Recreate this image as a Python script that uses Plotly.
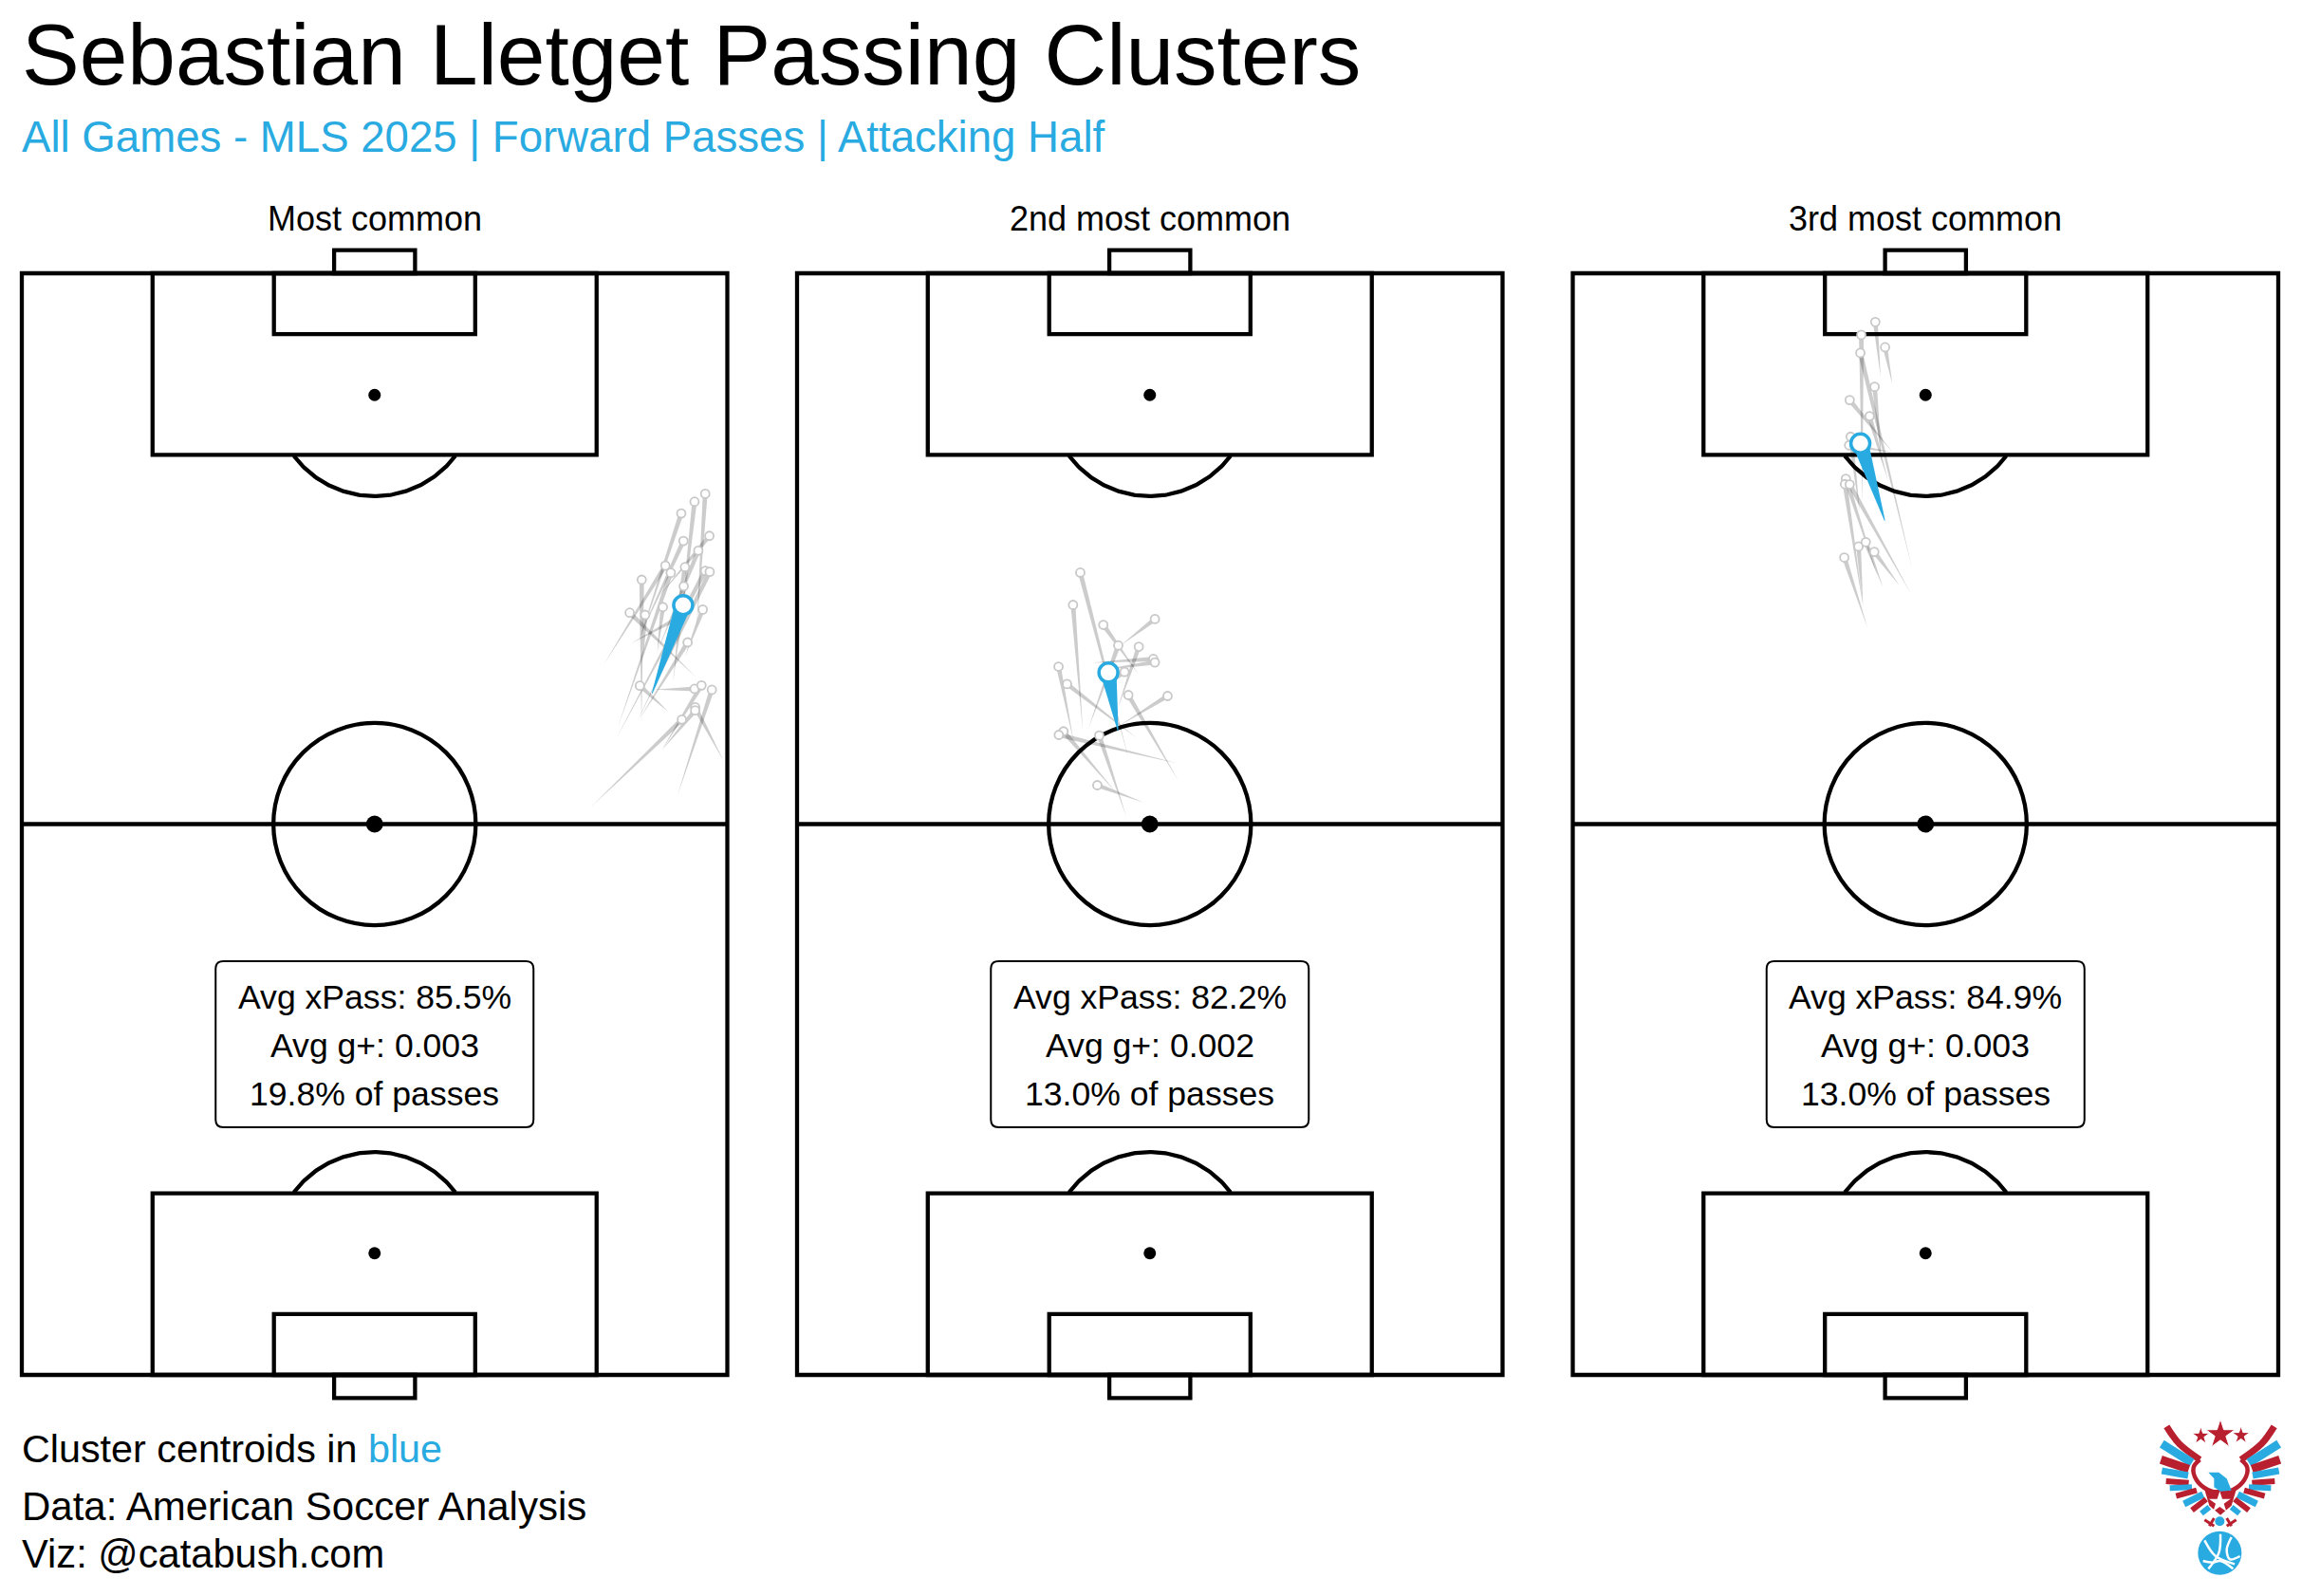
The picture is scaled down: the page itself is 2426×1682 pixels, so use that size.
import numpy as np
import plotly.graph_objects as go

W, H = 2426, 1682
BLUE = "#29abe2"
RED = "#b8202f"
FONT = "Liberation Sans"

title = "Sebastian Lletget Passing Clusters"
subtitle = "All Games - MLS 2025 | Forward Passes | Attacking Half"
panel_titles = ["Most common", "2nd most common", "3rd most common"]
xpass = ["Avg xPass: 85.5%", "Avg xPass: 82.2%", "Avg xPass: 84.9%"]
gplus = ["Avg g+: 0.003", "Avg g+: 0.002", "Avg g+: 0.003"]
share = ["19.8% of passes", "13.0% of passes", "13.0% of passes"]

# passes in pitch metres: start = thin end, end = circle end
c1_start_x = [65.08,63.25,59.38,61.58,59.60,61.27,56.09,63.25,57.46,57.31,59.29,59.75,62.80,65.02,59.90,61.27,63.95,59.60,62.37,60.97,61.67,63.19,67.67,61.73,54.87,58.74]
c1_start_y = [71.32,68.91,69.52,74.34,70.42,68.91,67.65,73.43,61.68,60.62,62.19,62.13,66.05,66.50,68.31,68.91,68.46,62.58,63.19,65.30,59.48,55.14,58.52,59.57,54.11,69.70]
c1_end_x = [65.87,64.84,63.56,66.27,63.77,65.20,62.03,63.92,62.55,65.87,66.30,59.75,63.80,58.59,60.08,61.79,65.63,64.17,59.57,64.84,65.51,66.51,64.90,64.90,63.62,63.40]
c1_end_y = [83.98,83.23,82.11,79.97,79.49,78.56,77.14,76.99,76.45,76.63,76.54,75.79,75.18,72.65,72.44,73.19,72.95,69.82,65.69,65.39,65.72,65.30,63.64,63.34,62.46,72.23]
c1_centroid = [60.75, 64.94, 63.74, 73.37]

c2_start_x = [31.99,27.57,32.91,31.23,28.09,30.93,28.34,29.10,30.32,26.66,32.75,36.78,31.08,30.77,36.78,31.78,33.42]
c2_start_y = [58.68,61.40,66.82,69.53,61.55,63.51,67.85,67.12,65.92,60.49,60.73,56.63,61.85,55.52,58.29,53.17,54.58]
c2_end_x = [27.30,26.60,29.52,34.49,30.96,32.94,34.34,34.49,31.56,25.20,26.02,31.93,35.71,25.68,25.23,29.13,28.94]
c2_end_y = [76.47,73.39,71.49,72.04,69.53,69.41,68.24,67.91,67.00,67.51,65.85,64.80,64.71,61.34,61.00,60.94,56.21]
c2_centroid = [30.93, 61.40, 30.01, 66.94]

c3_start_x = [29.70,30.83,27.94,32.72,29.83,30.89,30.43,27.69,30.74,29.37,28.00,32.66,28.00,29.92,31.50,28.45]
c3_start_y = [95.15,94.45,83.09,76.91,86.71,87.91,85.20,82.19,87.97,76.16,73.30,74.41,73.30,75.10,75.26,71.19]
c3_end_x = [29.16,30.10,27.81,27.72,29.09,26.69,28.61,26.78,26.63,26.32,26.23,26.69,27.54,28.24,29.06,26.17]
c3_end_y = [100.36,97.95,99.13,97.41,94.18,92.92,91.38,89.42,88.61,85.41,84.90,84.87,78.96,79.38,78.45,77.91]
c3_centroid = [30.07, 81.43, 27.72, 88.79]

clusters = [
    (c1_start_x, c1_start_y, c1_end_x, c1_end_y, c1_centroid),
    (c2_start_x, c2_start_y, c2_end_x, c2_end_y, c2_centroid),
    (c3_start_x, c3_start_y, c3_end_x, c3_end_y, c3_centroid),
]

# pitch dimensions (m)
PL, PW = 105.0, 68.0
BOX_HALF, BOX_D = 21.4, 17.3
SIX_HALF, SIX_D = 9.7, 5.8
GOAL_HALF, GOAL_D = 3.9, 2.2
SPOT_D = 11.6
CIRCLE_R = 9.75

# layout (pixels)
pitch_left = [23.0, 840.0, 1657.5]
pitch_w = 743.5
pitch_top, pitch_bot = 288.0, 1449.0
SX = pitch_w / PW
SY = (pitch_bot - pitch_top) / PL
PAD_X, PAD_Y = 1.0, 3.0


def px(x):
    return x / W


def py(y):
    return 1 - y / H


fig = go.Figure()
shapes, annos = [], []
layout_axes = {}


def wedge(xs, ys, xe, ye, w0, w1):
    dx, dy = (xe - xs) * SX, (ye - ys) * SY
    n = np.hypot(dx, dy)
    nx, ny = -dy / n, dx / n
    X = [xs + nx * w0 / 2 / SX, xe + nx * w1 / 2 / SX, xe - nx * w1 / 2 / SX, xs - nx * w0 / 2 / SX, xs + nx * w0 / 2 / SX]
    Y = [ys + ny * w0 / 2 / SY, ye + ny * w1 / 2 / SY, ye - ny * w1 / 2 / SY, ys - ny * w0 / 2 / SY, ys + ny * w0 / 2 / SY]
    return X, Y


LINE_W = 4.3
LINE = dict(color="black", width=LINE_W)
for i in range(3):
    suffix = "" if i == 0 else str(i + 1)
    xa, ya = "x" + suffix, "y" + suffix
    left = pitch_left[i]
    layout_axes["xaxis" + suffix] = dict(
        domain=[px(left - PAD_X * SX), px(left + pitch_w + PAD_X * SX)],
        range=[-PAD_X, PW + PAD_X], visible=False, fixedrange=True, anchor=ya)
    layout_axes["yaxis" + suffix] = dict(
        domain=[py(pitch_bot + PAD_Y * SY), py(pitch_top - PAD_Y * SY)],
        range=[-PAD_Y, PL + PAD_Y], visible=False, fixedrange=True, anchor=xa)

    def rect(x0, y0, x1, y1):
        shapes.append(dict(type="rect", xref=xa, yref=ya, x0=x0, y0=y0, x1=x1, y1=y1,
                           line=LINE, fillcolor="rgba(0,0,0,0)", layer="below"))

    mid = PW / 2
    rect(0, 0, PW, PL)
    shapes.append(dict(type="line", xref=xa, yref=ya, x0=0, x1=PW, y0=PL / 2, y1=PL / 2, line=LINE, layer="below"))
    shapes.append(dict(type="circle", xref=xa, yref=ya, x0=mid - CIRCLE_R * 1.0, x1=mid + CIRCLE_R,
                       y0=PL / 2 - CIRCLE_R * SX / SY, y1=PL / 2 + CIRCLE_R * SX / SY, line=LINE, layer="below"))
    for top in (False, True):
        f = (lambda d: PL - d) if top else (lambda d: d)
        rect(mid - BOX_HALF, f(0), mid + BOX_HALF, f(BOX_D))
        rect(mid - SIX_HALF, f(0), mid + SIX_HALF, f(SIX_D))
        rect(mid - GOAL_HALF, f(0), mid + GOAL_HALF, f(-GOAL_D))
        # penalty arc
        t = np.linspace(0, 2 * np.pi, 361)
        ax = mid + CIRCLE_R * np.cos(t)
        ay_d = SPOT_D + CIRCLE_R * SX / SY * np.sin(t)
        keep = ay_d >= BOX_D
        order = np.argsort(ax[keep])
        fig.add_trace(go.Scatter(x=ax[keep][order], y=[f(v) for v in ay_d[keep][order]], mode="lines",
                                 line=dict(color="black", width=LINE_W), xaxis=xa, yaxis=ya,
                                 hoverinfo="skip", showlegend=False))
    # spots
    fig.add_trace(go.Scatter(x=[mid, mid], y=[SPOT_D, PL - SPOT_D], mode="markers",
                             marker=dict(color="black", size=13), xaxis=xa, yaxis=ya,
                             hoverinfo="skip", showlegend=False))
    fig.add_trace(go.Scatter(x=[mid], y=[PL / 2], mode="markers", marker=dict(color="black", size=18),
                             xaxis=xa, yaxis=ya, hoverinfo="skip", showlegend=False))

    sx_, sy_, ex_, ey_, cen = clusters[i]
    for a, b, c, d in zip(sx_, sy_, ex_, ey_):
        X, Y = wedge(a, b, c, d, 0.6, 5.0)
        fig.add_trace(go.Scatter(x=X, y=Y, mode="lines", fill="toself", fillcolor="rgba(0,0,0,0.2)",
                                 line=dict(width=0), xaxis=xa, yaxis=ya, hoverinfo="skip", showlegend=False))
    fig.add_trace(go.Scatter(x=ex_, y=ey_, mode="markers",
                             marker=dict(color="white", size=9, line=dict(color="#c8c8c8", width=1.8)),
                             xaxis=xa, yaxis=ya, hoverinfo="skip", showlegend=False))
    X, Y = wedge(cen[0], cen[1], cen[2], cen[3], 0.8, 17.0)
    fig.add_trace(go.Scatter(x=X, y=Y, mode="lines", fill="toself", fillcolor=BLUE, line=dict(width=0),
                             xaxis=xa, yaxis=ya, hoverinfo="skip", showlegend=False))
    fig.add_trace(go.Scatter(x=[cen[2]], y=[cen[3]], mode="markers",
                             marker=dict(color="white", size=20, line=dict(color=BLUE, width=3.5)),
                             xaxis=xa, yaxis=ya, hoverinfo="skip", showlegend=False))

    cx = left + pitch_w / 2
    annos.append(dict(text=panel_titles[i], x=px(cx), y=py(230.5), xref="paper", yref="paper", xanchor="center",
                      yanchor="middle", showarrow=False, font=dict(family=FONT, size=36, color="black")))
    # stats box
    bx0, bx1, by0, by1, r = cx - 167.5, cx + 167.5, 1013.0, 1188.0, 8.0
    path = (f"M {px(bx0 + r)} {py(by0)} L {px(bx1 - r)} {py(by0)} Q {px(bx1)} {py(by0)} {px(bx1)} {py(by0 + r)} "
            f"L {px(bx1)} {py(by1 - r)} Q {px(bx1)} {py(by1)} {px(bx1 - r)} {py(by1)} "
            f"L {px(bx0 + r)} {py(by1)} Q {px(bx0)} {py(by1)} {px(bx0)} {py(by1 - r)} "
            f"L {px(bx0)} {py(by0 + r)} Q {px(bx0)} {py(by0)} {px(bx0 + r)} {py(by0)} Z")
    shapes.append(dict(type="path", xref="paper", yref="paper", path=path,
                       line=dict(color="black", width=2), fillcolor="white", layer="above"))
    for txt, yy in zip([xpass[i], gplus[i], share[i]], [1051, 1102, 1153]):
        annos.append(dict(text=txt, x=px(cx), y=py(yy), xref="paper", yref="paper", xanchor="center",
                          yanchor="middle", showarrow=False, font=dict(family=FONT, size=35.6, color="black")))

# text outside the pitches
for txt, yy, size, col in [
    (title, 57, 91, "black"),
    (subtitle, 144, 45.6, BLUE),
    (f'Cluster centroids in <span style="color:{BLUE}">blue</span>', 1527, 41.3, "black"),
    ("Data: American Soccer Analysis", 1587, 42, "black"),
    ("Viz: @catabush.com", 1637, 41.7, "black"),
]:
    annos.append(dict(text=txt, x=px(21), y=py(yy), xref="paper", yref="paper", xanchor="left",
                      yanchor="middle", showarrow=False, font=dict(family=FONT, size=size, color=col)))

# logo, drawn on its own small axes (units: zoom pixels of the badge)
logo_stars_x = [238, 300, 365]
logo_stars_y = [100, 95, 98]
logo_star_sizes = [14, 23, 14]
logo_strips = [
    (RED, 7, [130, 170, 235], [70, 125, 175]),
    (BLUE, 9, [115, 210], [125, 185]),
    (RED, 9, [112, 200], [175, 205]),
    (BLUE, 7, [115, 198], [210, 225]),
    (RED, 6, [128, 200], [243, 248]),
    (BLUE, 6, [140, 210], [265, 262]),
    (RED, 6, [160, 225], [290, 272]),
    (BLUE, 7, [185, 245], [315, 285]),
    (RED, 6, [210, 255], [335, 300]),
    (BLUE, 6, [240, 265], [345, 325]),
]
logo_body_x = [235, 215, 225, 260, 300, 340, 375, 385, 365]
logo_body_y = [175, 200, 240, 270, 280, 270, 240, 200, 175]
logo_shield_x = [250, 350, 335, 300, 265, 250]
logo_shield_y = [270, 270, 320, 350, 320, 270]
logo_head_x = [262, 295, 320, 335, 300, 280, 280, 262]
logo_head_y = [215, 215, 235, 272, 275, 262, 235, 215]
logo_ball_curves = [
    ([250, 285, 345], [430, 480, 505]),
    ([300, 295, 262], [410, 470, 520]),
    ([335, 320, 330, 362], [420, 460, 490, 480]),
    ([245, 275, 300, 340], [495, 500, 495, 520]),
]
layout_axes["xaxis4"] = dict(domain=[px(2240), px(2426)], range=[0, 558], visible=False, fixedrange=True, anchor="y4")
layout_axes["yaxis4"] = dict(domain=[py(1682), py(1480)], range=[606, 0], visible=False, fixedrange=True, anchor="x4")


def logo_line(x, y, color, width):
    fig.add_trace(go.Scatter(x=x, y=y, mode="lines", line=dict(color=color, width=width, shape="spline"),
                             xaxis="x4", yaxis="y4", hoverinfo="skip", showlegend=False))


for col, wd, xs, ys in logo_strips:
    logo_line(xs, ys, col, wd)
    logo_line([600 - v for v in xs], ys, col, wd)
logo_line(logo_body_x, logo_body_y, RED, 4.5)
for xs, ys, col in [(logo_shield_x, logo_shield_y, RED), (logo_head_x, logo_head_y, BLUE)]:
    fig.add_trace(go.Scatter(x=xs, y=ys, mode="lines", fill="toself", fillcolor=col, line=dict(width=0),
                             xaxis="x4", yaxis="y4", hoverinfo="skip", showlegend=False))
for xs, ys in [([250, 280], [365, 385]), ([280, 265], [360, 385]), ([350, 320], [365, 385]), ([320, 335], [360, 385])]:
    logo_line(xs, ys, RED, 3)
fig.add_trace(go.Scatter(x=logo_stars_x, y=logo_stars_y, mode="markers",
                         marker=dict(symbol="star", color=RED, size=logo_star_sizes, opacity=1),
                         xaxis="x4", yaxis="y4", hoverinfo="skip", showlegend=False))
fig.add_trace(go.Scatter(x=[298], y=[310], mode="markers", marker=dict(symbol="star", color="white", size=17),
                         xaxis="x4", yaxis="y4", hoverinfo="skip", showlegend=False))
fig.add_trace(go.Scatter(x=[298], y=[370], mode="markers", marker=dict(color=BLUE, size=10),
                         xaxis="x4", yaxis="y4", hoverinfo="skip", showlegend=False))
fig.add_trace(go.Scatter(x=[298], y=[470], mode="markers",
                         marker=dict(color=BLUE, size=46),
                         xaxis="x4", yaxis="y4", hoverinfo="skip", showlegend=False))
for xs, ys in logo_ball_curves:
    logo_line(xs, ys, "white", 2.5)

fig.update_layout(width=W, height=H, margin=dict(l=0, r=0, t=0, b=0), autosize=False,
                  paper_bgcolor="white", plot_bgcolor="rgba(0,0,0,0)", showlegend=False,
                  shapes=shapes, annotations=annos, **layout_axes)
fig.write_html("out.html", config=dict(displayModeBar=False),
               post_script="document.body.style.margin='0';document.body.style.overflow='hidden';")
